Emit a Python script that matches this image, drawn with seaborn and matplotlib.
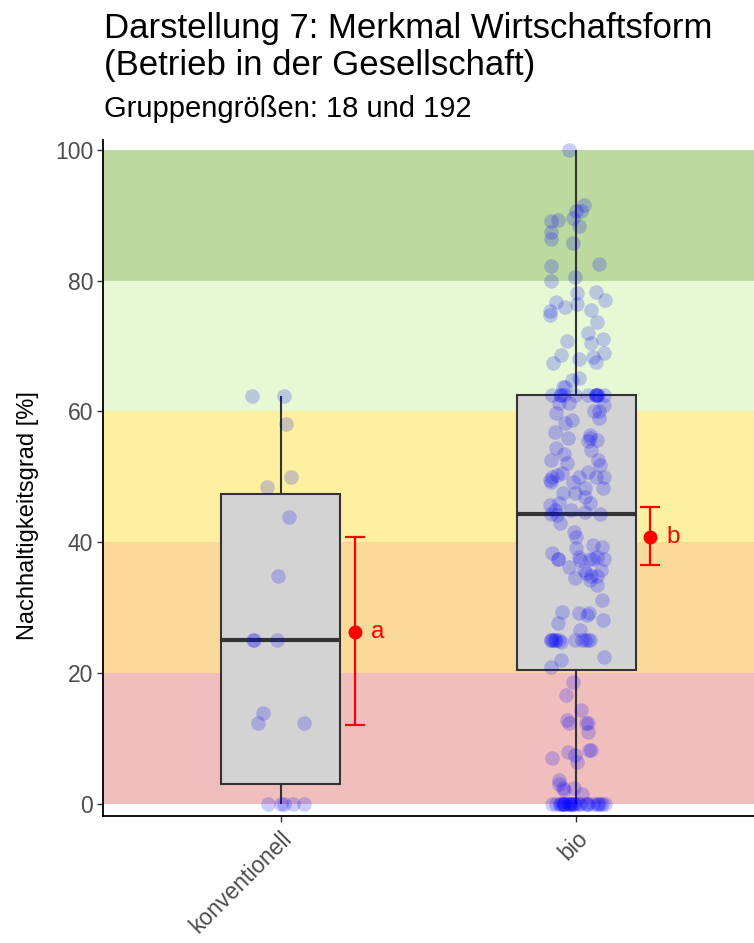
import numpy as np
import pandas as pd
import matplotlib
matplotlib.use("Agg")
import matplotlib.pyplot as plt
import seaborn as sns

# ---------------- data ----------------
categories = ["konventionell", "bio"]
group_sizes = [18, 192]

konv_values = [0, 0, 0, 0, 0, 12.4, 12.4, 13.9, 25.0, 25.0, 25.0, 34.9,
               43.9, 48.5, 50.0, 58.1, 62.4, 62.4]

bio_zero = [0, 0, 0, 0, 0, 0, 0, 0, 0, 0, 0, 0, 0, 0, 0, 0, 0, 0, 0, 0,
            0, 0, 0, 0, 0, 0, 0, 0]
bio_low = [1.5, 2.1, 2.4, 2.4, 3.0, 3.6, 6.5, 7.0, 7.5, 8.0, 8.3, 8.3, 11.0,
           12.4, 12.4, 12.4, 12.8, 14.4, 16.7, 18.7]
bio_midlow = [21.0, 22.0, 22.5, 24.8, 25.0, 25.0, 25.0, 25.0, 25.0, 25.0,
              25.0, 25.0, 25.0, 25.0, 25.1, 26.6, 27.6, 28.1, 28.9, 29.2,
              29.2, 29.4, 31.2, 33.5, 34.3, 34.5, 34.8, 34.8, 35.3, 35.8,
              35.8, 36.3, 37.3, 37.5, 37.5, 37.5, 37.5, 37.5, 37.8, 37.8,
              38.3, 39.1, 39.3, 39.6, 40.8, 41.6, 43.0, 44.2]
bio_midhigh = [44.4, 44.4, 44.7, 45.0, 45.0, 45.7, 46.0, 46.0, 47.0, 47.5,
               47.5, 48.3, 48.3, 49.3, 49.3, 49.5, 50.0, 50.0, 50.0, 50.0,
               50.3, 50.6, 50.8, 51.8, 52.1, 52.6, 52.6, 53.5, 54.1, 54.4,
               55.5, 55.7, 55.9, 55.9, 56.4, 56.9, 58.2, 58.7, 59.0, 59.8,
               60.0, 60.0, 61.0, 61.3, 61.3]
bio_high = [62.5, 62.5, 62.5, 62.5, 62.5, 62.5, 62.5, 62.5, 62.5, 62.5,
            62.5, 62.5, 63.8, 63.8, 64.8, 65.1, 67.4, 67.6, 68.1, 68.4,
            68.7, 68.9, 70.4, 70.7, 71.1, 72.0, 73.7, 74.8, 75.3, 75.5,
            76.0, 76.5, 76.8, 77.1, 78.1, 78.3, 80.0, 80.6, 82.2, 82.6,
            85.7, 86.4, 87.5, 88.4, 89.1, 89.3, 89.6, 90.6, 90.7, 91.5,
            100.0]

mean_values = [26.3, 40.8]
ci_lower = [12.1, 36.5]
ci_upper = [40.8, 45.4]
group_letters = ["a", "b"]

band_lower = [0, 20, 40, 60, 80]
band_upper = [20, 40, 60, 80, 100]
band_colors = ["#F1BEBE", "#FBD99B", "#FDF0A1", "#E6F9D4", "#BCD99F"]
y_ticks = [0, 20, 40, 60, 80, 100]

title_lines = ["Darstellung 7: Merkmal Wirtschaftsform",
               "(Betrieb in der Gesellschaft)"]
subtitle = f"Gruppengrößen: {group_sizes[0]} und {group_sizes[1]}"
ylabel = "Nachhaltigkeitsgrad [%]"

bio_values = bio_zero + bio_low + bio_midlow + bio_midhigh + bio_high

df = pd.DataFrame({
    "form": [categories[0]] * len(konv_values) + [categories[1]] * len(bio_values),
    "grad": konv_values + bio_values,
})

# ---------------- plot ----------------
sns.set_style("white")
plt.rcParams["font.family"] = ["Liberation Sans", "DejaVu Sans"]

fig = plt.figure(figsize=(7.54, 9.43), dpi=100)
ax = fig.add_axes([103 / 754, 1 - 816 / 943, 651 / 754, (816 - 140) / 943])

for lo, hi, c in zip(band_lower, band_upper, band_colors):
    ax.axhspan(lo, hi, color=c, lw=0, zorder=0)

sns.boxplot(data=df, x="form", y="grad", order=categories, ax=ax,
            color="#D3D3D3", saturation=1, width=0.4, showfliers=False,
            showcaps=False, linecolor="#333333", linewidth=1.5,
            medianprops={"linewidth": 3, "color": "#333333"},
            zorder=2)

np.random.seed(3)
sns.stripplot(data=df, x="form", y="grad", order=categories, ax=ax,
              color="blue", alpha=0.2, size=10.5, linewidth=0,
              jitter=0.1, zorder=3)

xpos = np.arange(len(categories)) + 0.25
means = np.array(mean_values)
yerr = np.vstack([means - np.array(ci_lower), np.array(ci_upper) - means])
ax.errorbar(xpos, means, yerr=yerr, fmt="o", color="red", ms=9,
            elinewidth=1.6, capsize=7, capthick=1.6, zorder=5)
for xp, m, lab in zip(xpos, means, group_letters):
    ax.text(xp + 0.055, m, lab, color="red", fontsize=17.5,
            ha="left", va="center", zorder=6)

ax.set_xlim(-0.6, 1.6)
ax.set_ylim(-1.83, 101.5)
ax.set_yticks(y_ticks)
ax.set_yticklabels([str(t) for t in y_ticks])
ax.set_xlabel("")
ax.set_ylabel("")
for s in ["top", "right"]:
    ax.spines[s].set_visible(False)
for s in ["left", "bottom"]:
    ax.spines[s].set_color("black")
    ax.spines[s].set_linewidth(1.3)
ax.tick_params(axis="both", length=4, width=1.0, color="#333333",
               labelcolor="#4D4D4D", labelsize=16.5, left=True, bottom=True)
ax.tick_params(axis="y", pad=3)
for lab in ax.get_xticklabels():
    lab.set_rotation(45)
    lab.set_ha("right")
    lab.set_va("top")
    lab.set_rotation_mode("anchor")

fig.text(28 / 754, 1 - 516 / 943, ylabel, rotation=90, ha="center",
         va="center", fontsize=17, color="black")
fig.text(104 / 754, 1 - 38 / 943, title_lines[0], ha="left", va="baseline",
         fontsize=25, color="black")
fig.text(104 / 754, 1 - 75 / 943, title_lines[1], ha="left", va="baseline",
         fontsize=25, color="black")
fig.text(104 / 754, 1 - 117 / 943, subtitle, ha="left", va="baseline",
         fontsize=21, color="black")

fig.savefig("out.png", dpi=100)
